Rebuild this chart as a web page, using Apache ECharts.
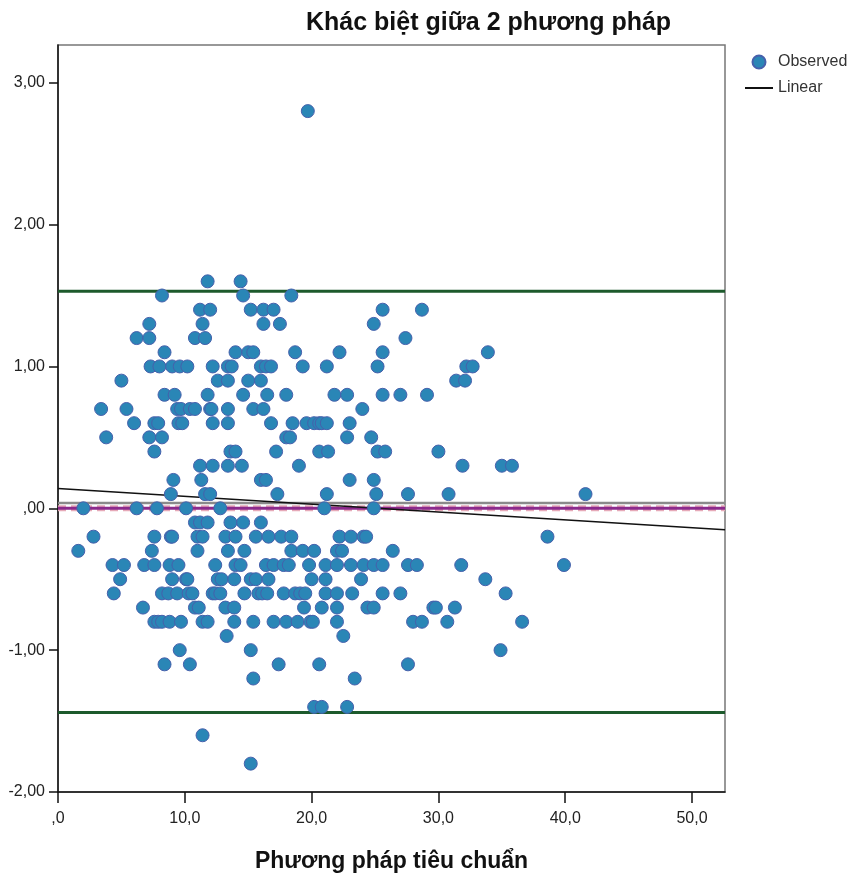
<!DOCTYPE html>
<html>
<head>
<meta charset="utf-8">
<script src="https://cdn.jsdelivr.net/npm/echarts@6/dist/echarts.min.js"></script>
<style>
  html, body { margin: 0; padding: 0; background: #fff; }
  #box { width: 854px; height: 878px; }
</style>
</head>
<body>
<div id="box"></div>
<script>
// differences, one row per 0.1 level
var rowY = [2.8, 1.6, 1.5, 1.4, 1.3, 1.2, 1.1, 1.0, 0.9, 0.8, 0.7, 0.6, 0.5, 0.4, 0.3, 0.2, 0.1, 0.0,
            -0.1, -0.2, -0.3, -0.4, -0.5, -0.6, -0.7, -0.8, -0.9, -1.0, -1.1, -1.2, -1.4, -1.6, -1.8];
var rowX = [
  [19.7],
  [11.8, 14.4],
  [8.2, 14.6, 18.4],
  [11.2, 12.0, 15.2, 16.2, 17.0, 25.6, 28.7],
  [7.2, 11.4, 16.2, 17.5, 24.9],
  [6.2, 7.2, 10.8, 11.6, 27.4],
  [8.4, 14.0, 15.0, 15.4, 18.7, 22.2, 25.6, 33.9],
  [7.3, 8.0, 9.0, 9.6, 10.2, 12.2, 13.4, 13.7, 16.0, 16.4, 16.8, 19.3, 21.2, 25.2, 32.2, 32.7],
  [5.0, 12.6, 13.4, 15.0, 16.0, 31.4, 32.1],
  [8.4, 9.2, 11.8, 14.6, 16.5, 18.0, 21.8, 22.8, 25.6, 27.0, 29.1],
  [3.4, 5.4, 9.4, 9.7, 10.4, 10.8, 12.0, 12.1, 13.4, 15.4, 16.2, 24.0],
  [6.0, 7.6, 7.9, 9.5, 9.8, 12.2, 13.4, 16.8, 18.5, 19.6, 20.2, 20.6, 20.8, 21.2, 23.0],
  [3.8, 7.2, 8.2, 18.0, 18.3, 22.8, 24.7],
  [7.6, 13.6, 14.0, 17.2, 20.6, 21.3, 25.2, 25.8, 30.0],
  [11.2, 12.2, 13.4, 14.5, 19.0, 31.9, 35.0, 35.8],
  [9.1, 11.3, 16.0, 16.4, 23.0, 24.9],
  [8.9, 11.6, 12.0, 17.3, 21.2, 25.1, 27.6, 30.8, 41.6],
  [2.0, 6.2, 7.8, 10.1, 12.8, 21.0, 24.9],
  [10.8, 11.2, 11.8, 13.6, 14.6, 16.0],
  [2.8, 7.6, 8.9, 9.0, 11.0, 11.4, 13.2, 14.0, 15.6, 16.6, 17.6, 18.4, 22.2, 23.1, 24.1, 24.3, 38.6],
  [1.6, 7.4, 11.0, 13.4, 14.7, 18.4, 19.3, 20.2, 22.0, 22.4, 26.4],
  [4.3, 5.2, 6.8, 7.6, 8.8, 9.5, 12.4, 14.0, 14.4, 16.4, 17.0, 17.8, 18.2, 19.8, 21.1, 22.0, 23.1, 24.1, 24.9, 25.6, 27.6, 28.3, 31.8, 39.9],
  [4.9, 9.0, 10.1, 10.2, 12.6, 12.9, 13.9, 15.2, 15.6, 16.6, 20.0, 21.1, 23.9, 33.7],
  [4.4, 8.2, 8.7, 9.4, 10.3, 10.6, 12.2, 12.4, 12.8, 14.7, 15.8, 16.1, 16.5, 17.8, 18.7, 19.1, 19.5, 21.1, 22.0, 23.2, 25.6, 27.0, 35.3],
  [6.7, 10.8, 11.1, 13.2, 13.9, 19.4, 20.8, 22.0, 24.4, 24.9, 29.6, 29.8, 31.3],
  [7.6, 7.9, 8.2, 8.8, 9.7, 11.4, 11.8, 13.9, 15.4, 17.0, 18.0, 18.9, 19.9, 20.1, 22.0, 28.0, 28.7, 30.7, 36.6],
  [13.3, 22.5],
  [9.6, 15.2, 34.9],
  [8.4, 10.4, 17.4, 20.6, 27.6],
  [15.4, 23.4],
  [20.2, 20.8, 22.8],
  [11.4],
  [15.2]
];

var meanDiff = 0.037;
var upperLimit = 1.53;
var lowerLimit = -1.44;
var fitIntercept = 0.139;
var fitSlope = -0.00552;

var xMax = 52.6;
var xTicks = [0, 10, 20, 30, 40, 50];
var yTicks = [-2, -1, 0, 1, 2, 3];

var observed = [];
rowY.forEach(function (y, i) {
  rowX[i].forEach(function (x) { observed.push([x, y]); });
});

function flat(v) { return [[0, v], [xMax, v]]; }
function fmt(v, d) {
  var s = v.toFixed(d).replace('.', ',');
  return s.replace(/^0,/, ',');
}

var lbl = { fontFamily: 'Liberation Sans, Arial, sans-serif', fontSize: 16, color: '#222' };

var myChart = echarts.init(document.getElementById('box'));
var option = {
  animation: false,
  backgroundColor: '#fff',
  title: {
    text: 'Khác biệt giữa 2 phương pháp',
    left: 301,
    top: 6,
    textStyle: { fontFamily: 'Liberation Sans, Arial, sans-serif', fontSize: 25, fontWeight: 'bold', color: '#111' }
  },
  legend: {
    orient: 'vertical',
    left: 740,
    top: 49,
    itemWidth: 28,
    itemHeight: 13,
    itemGap: 10,
    textStyle: { fontFamily: 'Liberation Sans, Arial, sans-serif', fontSize: 16, color: '#333' },
    data: [
      { name: 'Observed', icon: 'circle' },
      { name: 'Linear', icon: 'path://M0,0 L28,0 L28,2 L0,2 Z' }
    ]
  },
  grid: {
    left: 58, right: 129, top: 45, bottom: 85,
    show: true, borderColor: '#777', borderWidth: 1.5
  },
  xAxis: {
    type: 'value', min: 0, max: xMax,
    name: 'Phương pháp tiêu chuẩn', nameLocation: 'middle', nameGap: 58,
    nameTextStyle: { fontFamily: 'Liberation Sans, Arial, sans-serif', fontSize: 23, fontWeight: 'bold', color: '#111' },
    axisLine: { onZero: false, lineStyle: { color: '#111', width: 1.5 } },
    axisTick: { length: 11, customValues: xTicks, lineStyle: { color: '#111', width: 1.5 } },
    axisLabel: Object.assign({ margin: 19, customValues: xTicks, formatter: function (v) { return fmt(v, 1); } }, lbl),
    splitLine: { show: false }
  },
  yAxis: {
    type: 'value', min: -2, max: 3.266,
    axisLine: { show: true, onZero: false, lineStyle: { color: '#111', width: 1.5 } },
    axisTick: { show: true, length: 9, customValues: yTicks, lineStyle: { color: '#111', width: 1.5 } },
    axisLabel: Object.assign({ margin: 13, customValues: yTicks, formatter: function (v) { return fmt(v, 2); } }, lbl),
    splitLine: { show: false }
  },
  series: [
    { name: 'upper', type: 'line', data: flat(upperLimit), symbol: 'none', silent: true,
      lineStyle: { color: '#1d5a2c', width: 3 } },
    { name: 'lower', type: 'line', data: flat(lowerLimit), symbol: 'none', silent: true,
      lineStyle: { color: '#1d5a2c', width: 3 } },
    { name: 'mean', type: 'line', data: flat(meanDiff), symbol: 'none', silent: true,
      lineStyle: { color: '#8a8a8a', width: 2.5 } },
    { name: 'zeroBand', type: 'line', data: flat(0), symbol: 'none', silent: true,
      lineStyle: { color: '#e6a9b8', width: 6, type: [8, 5] } },
    { name: 'zero', type: 'line', data: flat(0), symbol: 'none', silent: true,
      lineStyle: { color: '#8c2a8c', width: 3 } },
    { name: 'Linear', type: 'line', symbol: 'none', silent: true,
      data: [[0, fitIntercept], [xMax, fitIntercept + fitSlope * xMax]],
      itemStyle: { color: '#111' },
      lineStyle: { color: '#111', width: 1.5 } },
    { name: 'Observed', type: 'scatter', data: observed, symbolSize: 13, z: 5,
      itemStyle: { color: '#2a86b6', borderColor: '#4660ac', borderWidth: 1, opacity: 1 } }
  ]
};
myChart.setOption(option, true);
</script>
</body>
</html>
